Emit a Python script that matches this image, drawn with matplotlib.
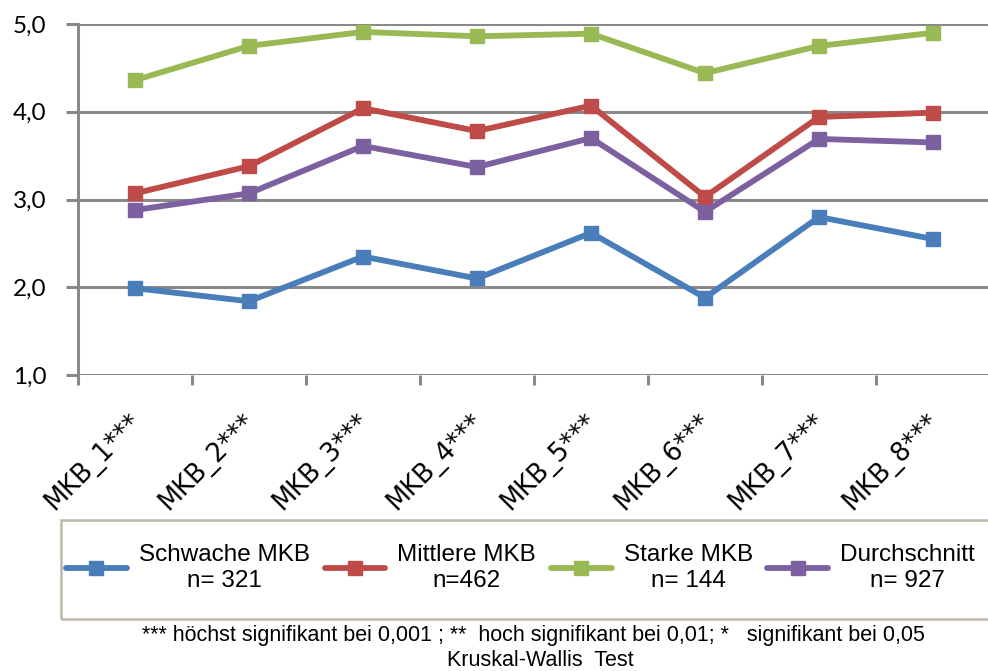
import matplotlib
matplotlib.use("Agg")
import matplotlib.pyplot as plt
from matplotlib.lines import Line2D
from matplotlib.patches import Rectangle

categories = ["MKB_1***", "MKB_2***", "MKB_3***", "MKB_4***",
              "MKB_5***", "MKB_6***", "MKB_7***", "MKB_8***"]
schwache = [1.99, 1.84, 2.35, 2.10, 2.62, 1.88, 2.80, 2.55]
mittlere = [3.07, 3.38, 4.04, 3.78, 4.07, 3.03, 3.94, 3.99]
starke = [4.36, 4.75, 4.91, 4.86, 4.89, 4.44, 4.75, 4.90]
durchschnitt = [2.88, 3.07, 3.61, 3.37, 3.70, 2.86, 3.69, 3.65]
series_labels = ["Schwache MKB\nn= 321", "Mittlere MKB\nn=462",
                 "Starke MKB\nn= 144", "Durchschnitt\nn= 927"]
y_ticks = [1.0, 2.0, 3.0, 4.0, 5.0]
footnote_1 = ("*** höchst signifikant bei 0,001 ; **  hoch signifikant bei 0,01; *   "
              "signifikant bei 0,05")
footnote_2 = "Kruskal-Wallis  Test"

colors = ["#4A7EBB", "#BE4B48", "#98B954", "#7D60A0"]
grid_col = "#898989"

W, H = 988, 671
fig = plt.figure(figsize=(W / 100, H / 100), dpi=100)
ax = fig.add_axes([78 / W, 1 - 375 / H, 912 / W, (375 - 24) / H])

x = [i + 0.5 for i in range(len(categories))]
for vals, c in zip([schwache, mittlere, starke, durchschnitt], colors):
    ax.plot(x, vals, color=c, lw=4.2, marker="s", ms=10.5,
            markerfacecolor=c, markeredgecolor=c, solid_joinstyle="round",
            clip_on=False, zorder=3)

ax.set_xlim(0, len(categories))
ax.set_ylim(1.0, 5.0)
ax.set_yticks(y_ticks)
ax.set_yticklabels([f"{v:.1f}".replace(".", ",") for v in y_ticks],
                   fontsize=17.5, family="Lato")
ax.yaxis.grid(True, color=grid_col, lw=2.2)
ax.set_axisbelow(True)

for s in ["top", "right", "bottom"]:
    ax.spines[s].set_visible(False)
ax.spines["left"].set_color(grid_col)
ax.spines["left"].set_linewidth(2.2)
ax.tick_params(axis="y", length=8.6, width=2.2, color=grid_col, pad=14)

# category boundaries carry the x ticks; labels sit at category centres
ax.set_xticks(range(len(categories) + 1))
ax.set_xticklabels([])
ax.tick_params(axis="x", length=7, width=2.2, color=grid_col)
for xi, lab in zip(x, categories):
    ax.text(xi - 0.06, -0.095, lab, transform=ax.get_xaxis_transform(),
            rotation=45, ha="right", va="top", rotation_mode="anchor",
            fontsize=18.5, family="DejaVu Sans")

# legend frame, running off the right edge
fig.add_artist(Rectangle((61 / W, 1 - 619 / H), 960 / W, 99 / H,
                         transform=fig.transFigure, fill=False,
                         edgecolor="#BDB8AB", lw=1.8))
handles = [Line2D([], [], color=c, lw=4.2, marker="s", ms=10.5,
                  solid_capstyle="round") for c in colors]
leg = fig.legend(handles, series_labels, ncol=4,
                 loc="center left",
                 bbox_to_anchor=(66 / W, 1 - 568 / H),
                 bbox_transform=fig.transFigure,
                 prop={"family": "Liberation Sans", "size": 17.5},
                 handlelength=2.5, handletextpad=0.5, columnspacing=0.6,
                 borderaxespad=0, borderpad=0, frameon=False)
for t in leg.get_texts():
    t.set_multialignment("center")
    t.set_linespacing(1.28)

fig.text(533 / W, 1 - 636 / H, footnote_1, ha="center", va="center",
         fontsize=15.5, family="Liberation Sans")
fig.text(540 / W, 1 - 661 / H, footnote_2, ha="center", va="center",
         fontsize=15.5, family="Liberation Sans")

fig.savefig("out.png", dpi=100)
